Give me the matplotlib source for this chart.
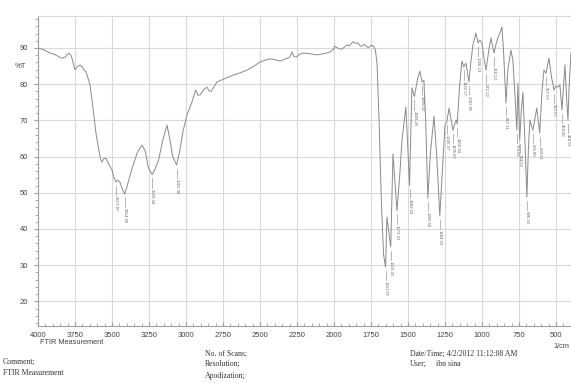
import numpy as np
import matplotlib
matplotlib.use("Agg")
import matplotlib.pyplot as plt
from matplotlib.ticker import MultipleLocator

# IR spectrum, wavenumber (1/cm) vs transmittance (%T)
wavenumber = [
    4000, 3960, 3920, 3890, 3860, 3840, 3815, 3800, 3790, 3775, 3760, 3750,
    3735, 3716, 3700, 3690, 3676, 3660, 3649, 3630, 3610, 3590, 3575, 3568,
    3555, 3541, 3520, 3500, 3485, 3471.87, 3460, 3445, 3430, 3414.00, 3400,
    3370, 3330, 3297, 3275, 3255, 3228.34, 3210, 3185, 3160, 3128, 3110, 3090,
    3062.96, 3040, 3020, 2993, 2960, 2935, 2920, 2905, 2880, 2858, 2845, 2830,
    2791, 2740, 2682, 2630, 2588, 2540, 2500, 2460, 2432, 2400, 2365, 2330,
    2297, 2284, 2270, 2255, 2230, 2209, 2160, 2115, 2070, 2027, 2005, 1993,
    1975, 1960, 1946, 1925, 1912, 1895, 1872, 1855, 1838, 1820, 1811, 1795,
    1783, 1770, 1755, 1743, 1730, 1720, 1709, 1695, 1680, 1665, 1651.07, 1642,
    1616.35, 1601, 1573.91, 1555, 1540, 1514, 1489.10, 1473, 1456.26, 1435,
    1419, 1405.02, 1392, 1380, 1365.60, 1350, 1324, 1305, 1284.59, 1265, 1250,
    1236.37, 1222, 1195.87, 1180, 1172, 1166.94, 1150, 1135, 1122.57, 1108,
    1087.85, 1075, 1061, 1041, 1026.13, 1014, 1000, 985, 972.12, 955, 939,
    918.12, 905, 892, 875, 865, 855, 837.11, 825, 804, 791, 778, 763.81, 757,
    744.52, 735, 723, 710, 696.30, 686, 676, 655.80, 629, 609.51, 594, 581,
    567.07, 547, 530, 513.07, 500, 486, 473, 459.06, 439, 426, 418.55, 410, 398,
]
transmittance = [
    90.0, 89.5, 88.6, 88.3, 87.6, 87.2, 87.5, 88.2, 88.6, 87.8, 85.5, 84.0,
    84.8, 85.3, 84.8, 84.0, 83.4, 81.5, 79.8, 74.0, 67.0, 62.0, 59.0, 58.5,
    59.4, 59.6, 57.8, 56.3, 54.0, 53.0, 53.5, 52.8, 51.0, 49.7, 51.5,
    56.0, 61.0, 63.2, 61.5, 57.0, 55.0, 56.5, 59.0, 64.0, 68.7, 65.0, 60.0,
    57.7, 62.0, 67.0, 71.5, 75.0, 78.4, 77.0, 77.0, 78.5, 79.2, 78.2, 78.0,
    80.6, 81.5, 82.5, 83.2, 83.9, 85.0, 86.1, 86.7, 87.0, 86.8, 86.4, 86.9,
    87.5, 88.9, 87.6, 87.5, 88.3, 88.6, 88.4, 88.1, 88.4, 88.9, 89.6, 90.5,
    90.0, 89.7, 89.7, 90.4, 90.8, 90.6, 91.7, 91.3, 91.4, 90.5, 90.5, 91.0,
    90.6, 90.0, 90.5, 90.8, 90.3, 89.5, 85.8, 70.0, 48.0, 33.0, 29.5, 43.3,
    35.0, 60.7, 45.0, 55.0, 64.6, 73.7, 52.1, 79.0, 76.6, 81.5,
    83.6, 80.6, 81.1, 70.0, 48.5, 60.0, 71.2, 60.0, 43.6, 58.0, 68.5,
    69.8, 73.4, 67.3, 69.5, 70.1, 69.0, 80.0, 86.4, 84.8, 85.8,
    80.6, 86.0, 90.8, 94.1, 91.4, 92.2, 91.4, 87.0, 83.9, 89.0, 92.8,
    88.6, 91.0, 92.8, 94.5, 95.8, 90.0, 74.8, 84.0, 89.4, 86.7, 78.0, 67.3, 80.3,
    64.6, 72.0, 77.8, 65.0, 48.8, 62.0, 70.1, 67.3, 73.4, 66.5, 78.0, 83.9,
    83.0, 87.2, 82.0, 78.4, 79.5, 79.2, 79.8, 72.9, 85.3, 75.0, 70.1, 80.0, 88.6,
]

# picked peaks
peak_labels = [
    "3471.87", "3414.00", "3228.34", "3062.96", "1651.07", "1616.35",
    "1573.91", "1489.10", "1456.26", "1405.02", "1365.60", "1284.59",
    "1236.37", "1195.87", "1166.94", "1122.57", "1087.85", "1026.13",
    "972.12", "918.12", "837.11", "763.81", "744.52", "696.30", "655.80",
    "609.51", "567.07", "513.07", "459.06", "418.55",
]

yticks = [20, 30, 40, 50, 60, 70, 80, 90]
xticks = [4000, 3750, 3500, 3250, 3000, 2750, 2500, 2250, 2000, 1750, 1500, 1250, 1000, 750, 500]

LINE = "#8a8a8a"
GRID = "#d9d9d9"
TEXT = "#444444"

fig = plt.figure(figsize=(5.71, 3.83), dpi=100)
ax = fig.add_axes([38 / 571, 1 - 326 / 383, 533 / 571, 310 / 383])

wn = np.array(wavenumber)
tr = np.array(transmittance)
ax.plot(wn, tr, color=LINE, lw=0.7)

# peak markers: short tick under each minimum, value written below it
for lab in peak_labels:
    x = float(lab)
    y = np.interp(x, wn[::-1], tr[::-1])
    ax.plot([x, x], [y - 1.0, y - 3.6], color="#9a9a9a", lw=0.5)
    ax.text(x, y - 3.9, lab, rotation=270, ha="center", va="top",
            fontsize=3.1, color="#666666", family="Liberation Sans")

ax.set_xlim(4000, 398)
ax.set_ylim(13.2, 98.84)
ax.set_xticks(xticks)
ax.set_yticks(yticks)
ax.xaxis.set_minor_locator(MultipleLocator(50))
ax.yaxis.set_minor_locator(MultipleLocator(2))
ax.grid(True, which="major", color=GRID, lw=0.8)
ax.set_axisbelow(True)

for side in ("left", "bottom"):
    ax.spines[side].set_color("#a0a0a0")
    ax.spines[side].set_linewidth(0.8)
ax.spines["top"].set_color(GRID)
ax.spines["top"].set_linewidth(0.8)
ax.spines["right"].set_visible(False)

ax.tick_params(axis="x", which="both", direction="in", colors="#a0a0a0",
               labelcolor=TEXT, labelsize=5.5, pad=4)
ax.tick_params(axis="x", which="major", length=3)
ax.tick_params(axis="x", which="minor", length=2)
ax.tick_params(axis="y", which="both", direction="out", colors="#a0a0a0",
               labelcolor=TEXT, labelsize=5.5, pad=4)
ax.tick_params(axis="y", which="major", length=3)
ax.tick_params(axis="y", which="minor", length=2)
for t in ax.get_xticklabels() + ax.get_yticklabels():
    t.set_family("Liberation Sans")

sans = dict(family="Liberation Sans", color=TEXT)
serif = dict(family="Liberation Serif", color="#333333", fontsize=5.6)

fig.text(20 / 571, 1 - 66 / 383, "%T", fontsize=5.5, ha="center", va="center", **sans)
fig.text(569 / 571, 1 - 346 / 383, "1/cm", fontsize=5.3, ha="right", va="center", **sans)
fig.text(40 / 571, 1 - 343 / 383, "FTIR Measurement", fontsize=5.3, ha="left", va="center", **sans)

fig.text(3 / 571, 1 - 362 / 383, "Comment;", ha="left", va="center", **serif)
fig.text(3 / 571, 1 - 373 / 383, "FTIR Measurement", ha="left", va="center", **serif)
fig.text(205 / 571, 1 - 354 / 383, "No. of Scans;", ha="left", va="center", **serif)
fig.text(205 / 571, 1 - 364 / 383, "Resolution;", ha="left", va="center", **serif)
fig.text(205 / 571, 1 - 376 / 383, "Apodization;", ha="left", va="center", **serif)
fig.text(410 / 571, 1 - 354 / 383, "Date/Time; 4/2/2012 11:12:08 AM", ha="left", va="center", **serif)
fig.text(410 / 571, 1 - 364 / 383, "User;", ha="left", va="center", **serif)
fig.text(436 / 571, 1 - 364 / 383, "ibn sina", ha="left", va="center", **serif)

fig.savefig("out.png", dpi=100)
